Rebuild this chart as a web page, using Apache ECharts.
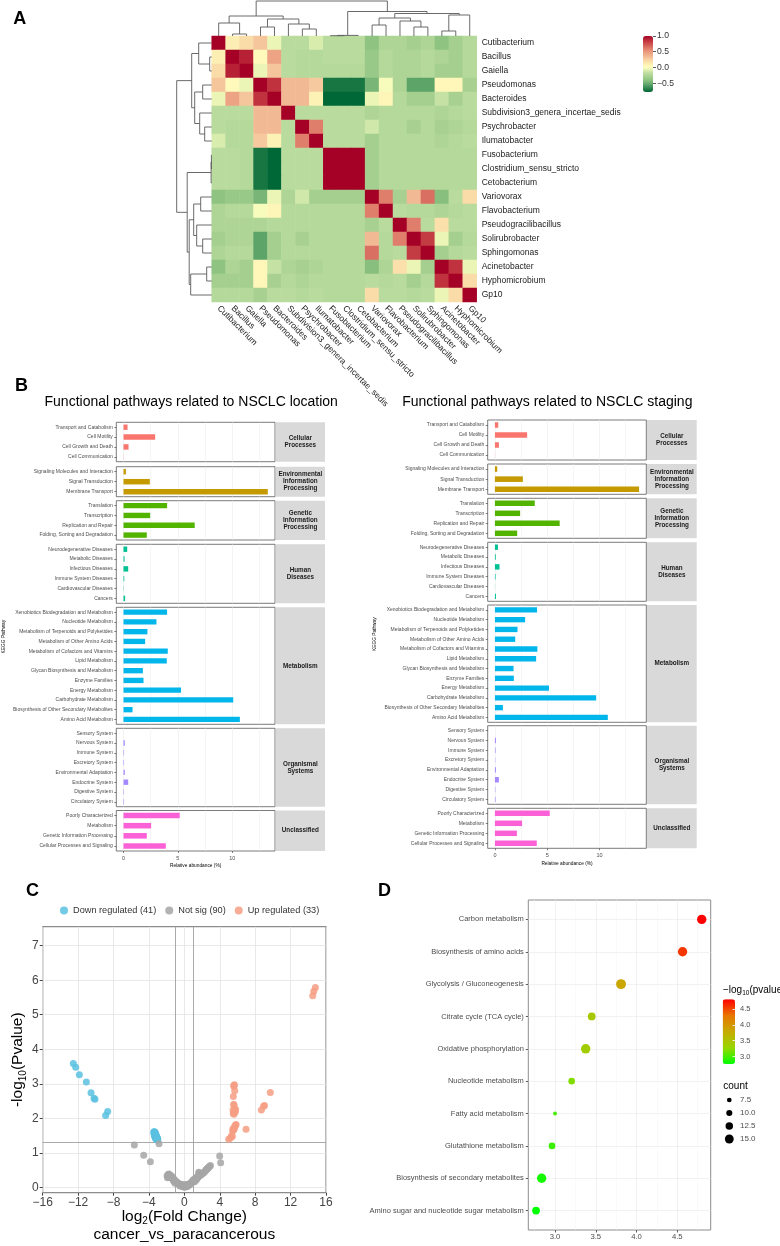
<!DOCTYPE html>
<html>
<head>
<meta charset="utf-8">
<title>Figure</title>
<script src="https://cdn.jsdelivr.net/npm/echarts@6.0.0/dist/echarts.min.js"></script>
<style>
  html, body { margin: 0; padding: 0; background: #fff; }
  #fig { width: 780px; height: 1246px; }
</style>
</head>
<body>
<div id="fig"></div>
<script>
const FONT = '"Liberation Sans", Arial, Helvetica, sans-serif';

// ---------- A: genus correlation heatmap ----------
const genera = ['Cutibacterium', 'Bacillus', 'Gaiella', 'Pseudomonas', 'Bacteroides',
  'Subdivision3_genera_incertae_sedis', 'Psychrobacter', 'Ilumatobacter', 'Fusobacterium',
  'Clostridium_sensu_stricto', 'Cetobacterium', 'Variovorax', 'Flavobacterium',
  'Pseudogracilibacillus', 'Solirubrobacter', 'Sphingomonas', 'Acinetobacter',
  'Hyphomicrobium', 'Gp10'];
// upper triangle, row i holds the columns i+1 .. 18
const corrUpper = [
  [0.1, 0.2, 0.3, -0.05, -0.2, -0.2, -0.1, -0.2, -0.2, -0.2, -0.4, -0.25, -0.25, -0.3, -0.25, -0.4, -0.3, -0.22],
  [0.9, 0.03, 0.45, -0.2, -0.22, -0.22, -0.2, -0.2, -0.2, -0.35, -0.22, -0.25, -0.25, -0.22, -0.25, -0.3, -0.22],
  [-0.05, 0.3, -0.2, -0.22, -0.22, -0.22, -0.22, -0.22, -0.35, -0.22, -0.25, -0.25, -0.22, -0.3, -0.3, -0.22],
  [0.85, 0.35, 0.35, 0.28, -0.72, -0.72, -0.72, -0.47, -0.02, -0.25, -0.55, -0.55, 0.05, 0.05, -0.28],
  [0.35, 0.35, 0.08, -0.78, -0.78, -0.78, -0.05, 0.06, -0.22, -0.3, -0.3, -0.15, -0.28, -0.2],
  [-0.2, -0.2, -0.2, -0.2, -0.2, -0.25, -0.22, -0.22, -0.22, -0.22, -0.25, -0.22, -0.2],
  [0.6, -0.2, -0.2, -0.2, -0.12, -0.22, -0.22, -0.28, -0.22, -0.28, -0.25, -0.22],
  [-0.2, -0.2, -0.2, -0.3, -0.22, -0.22, -0.22, -0.22, -0.25, -0.22, -0.2],
  [1, 1, -0.3, -0.22, -0.22, -0.22, -0.22, -0.22, -0.22, -0.22],
  [1, -0.3, -0.22, -0.22, -0.22, -0.22, -0.22, -0.22, -0.22],
  [-0.3, -0.22, -0.22, -0.22, -0.22, -0.22, -0.22, -0.22],
  [0.6, -0.28, 0.35, 0.65, -0.42, -0.2, 0.2],
  [-0.2, -0.22, -0.22, -0.25, -0.22, -0.2],
  [0.6, -0.2, 0.18, -0.2, -0.2],
  [0.82, -0.05, -0.3, -0.22],
  [-0.3, -0.22, -0.2],
  [0.85, -0.05],
  [0.2]
];
// clustering (same tree for rows and columns), merge k creates node 19 + k: [child, child, height]
const clusterMerges = [
  [1, 2, 2], [0, 19, 13], [3, 4, 9], [6, 7, 7], [5, 22, 12], [21, 23, 17], [20, 24, 20],
  [8, 9, 0.3], [26, 10, 0.6], [11, 12, 11], [14, 15, 9], [13, 29, 15], [28, 30, 18],
  [16, 17, 5], [32, 18, 21], [31, 33, 22.5], [27, 34, 24.5], [25, 35, 35]
];
const corrTicks = [-0.5, 0, 0.5, 1];

// ---------- B: KEGG pathway abundance ----------
const pathwayGroups = ['Cellular\nProcesses', 'Environmental\nInformation\nProcessing',
  'Genetic\nInformation\nProcessing', 'Human\nDiseases', 'Metabolism', 'Organismal\nSystems', 'Unclassified'];
const pathwayNames = [
  ['Transport and Catabolism', 'Cell Motility', 'Cell Growth and Death', 'Cell Communication'],
  ['Signaling Molecules and Interaction', 'Signal Transduction', 'Membrane Transport'],
  ['Translation', 'Transcription', 'Replication and Repair', 'Folding, Sorting and Degradation'],
  ['Neurodegenerative Diseases', 'Metabolic Diseases', 'Infectious Diseases', 'Immune System Diseases',
    'Cardiovascular Diseases', 'Cancers'],
  ['Xenobiotics Biodegradation and Metabolism', 'Nucleotide Metabolism', 'Metabolism of Terpenoids and Polyketides',
    'Metabolism of Other Amino Acids', 'Metabolism of Cofactors and Vitamins', 'Lipid Metabolism',
    'Glycan Biosynthesis and Metabolism', 'Enzyme Families', 'Energy Metabolism', 'Carbohydrate Metabolism',
    'Biosynthesis of Other Secondary Metabolites', 'Amino Acid Metabolism'],
  ['Sensory System', 'Nervous System', 'Immune System', 'Excretory System', 'Environmental Adaptation',
    'Endocrine System', 'Digestive System', 'Circulatory System'],
  ['Poorly Characterized', 'Metabolism', 'Genetic Information Processing', 'Cellular Processes and Signaling']
];
const abundLocation = [
  [0.37, 2.91, 0.46, 0.01],
  [0.22, 2.42, 13.27],
  [4.01, 2.45, 6.55, 2.14],
  [0.34, 0.10, 0.43, 0.07, 0.02, 0.15],
  [4.01, 3.03, 2.20, 1.99, 4.07, 3.98, 1.78, 1.84, 5.29, 10.09, 0.83, 10.70],
  [0.0, 0.12, 0.05, 0.05, 0.12, 0.43, 0.04, 0.05],
  [5.17, 2.54, 2.14, 3.89]
];
const abundStaging = [
  [0.32, 3.08, 0.38, 0.01],
  [0.22, 2.67, 13.78],
  [3.81, 2.41, 6.19, 2.13],
  [0.29, 0.08, 0.44, 0.06, 0.01, 0.10],
  [4.03, 2.89, 2.16, 1.94, 4.06, 3.94, 1.78, 1.81, 5.17, 9.68, 0.76, 10.79],
  [0.0, 0.10, 0.06, 0.03, 0.10, 0.38, 0.04, 0.06],
  [5.24, 2.60, 2.10, 4.00]
];
const abundTicks = [0, 5, 10];
const abundMinorGrid = [2.5, 7.5, 12.5];

// ---------- C: volcano plot [log2FC, -log10 p] ----------
const volcanoDown = [
  [-12.54, 3.59], [-12.27, 3.48], [-11.86, 3.26], [-11.07, 3.05], [-10.54, 2.74], [-10.2, 2.58],
  [-10.1, 2.55], [-8.66, 2.2], [-8.89, 2.08],
  [-3.45, 1.60], [-3.40, 1.61], [-3.35, 1.60], [-3.30, 1.59], [-3.42, 1.57], [-3.37, 1.56], [-3.32, 1.55],
  [-3.27, 1.56], [-3.40, 1.53], [-3.35, 1.52], [-3.28, 1.52], [-3.22, 1.53], [-3.38, 1.50], [-3.31, 1.49],
  [-3.24, 1.49], [-3.18, 1.50], [-3.33, 1.47], [-3.26, 1.46], [-3.20, 1.46], [-3.14, 1.47], [-3.28, 1.44],
  [-3.21, 1.43], [-3.15, 1.43], [-3.09, 1.44], [-3.22, 1.41], [-3.16, 1.40], [-3.10, 1.40], [-3.05, 1.41],
  [-3.12, 1.38], [-3.06, 1.37], [-3.00, 1.38], [-3.02, 1.42]
];
const volcanoNotSig = [
  [-5.65, 1.23], [-4.59, 0.93], [-3.84, 0.74], [-2.86, 1.26],
  [-1.95, 0.33], [-1.85, 0.37], [-1.75, 0.39], [-1.70, 0.34], [-1.62, 0.36], [-1.55, 0.31], [-1.50, 0.28],
  [-1.45, 0.33], [-1.38, 0.27], [-1.30, 0.24], [-1.80, 0.30], [-1.25, 0.20], [-1.13, 0.16], [-1.05, 0.12],
  [-0.55, 0.08], [-0.45, 0.06], [-0.35, 0.05], [-0.25, 0.03], [-0.15, 0.02], [-0.05, 0.01], [0.05, 0.01],
  [0.12, 0.02], [-0.40, 0.09], [-0.20, 0.07], [0.00, 0.05], [0.20, 0.04], [0.30, 0.06], [0.15, 0.08],
  [0.45, 0.08], [0.55, 0.10], [0.65, 0.11], [0.75, 0.13], [0.85, 0.14], [0.95, 0.16], [1.05, 0.18],
  [1.10, 0.20], [1.20, 0.22], [1.30, 0.24], [1.40, 0.26], [1.50, 0.28], [1.55, 0.30], [1.60, 0.32],
  [1.65, 0.38], [1.70, 0.42], [1.62, 0.44], [1.75, 0.34], [1.85, 0.36], [1.95, 0.38], [2.05, 0.40],
  [2.15, 0.42], [2.25, 0.44], [2.35, 0.47], [2.45, 0.50], [2.55, 0.53], [2.65, 0.55], [2.75, 0.58],
  [2.85, 0.61], [2.95, 0.63], [1.00, 0.22], [1.25, 0.27], [0.90, 0.18], [1.45, 0.31], [2.50, 0.52],
  [2.70, 0.57], [3.99, 0.91], [4.10, 0.71],
  [-0.60, 0.10], [-0.50, 0.04], [-0.30, 0.08], [-0.10, 0.04], [0.10, 0.05], [0.25, 0.02], [0.35, 0.03],
  [0.40, 0.05], [-0.70, 0.12], [-0.80, 0.14], [-0.90, 0.16], [-1.00, 0.19], [-1.20, 0.25], [-1.40, 0.30],
  [-1.60, 0.29], [-1.90, 0.28], [-1.70, 0.31], [1.15, 0.16], [1.35, 0.21], [0.60, 0.07]
];
const volcanoUp = [
  [5.61, 2.95], [5.65, 2.97], [5.58, 2.93], [5.69, 2.80], [5.53, 2.63], [5.57, 2.41], [5.62, 2.38],
  [5.50, 2.24], [5.80, 2.25], [5.70, 2.28], [5.53, 2.14], [5.60, 2.12], [5.75, 2.18], [5.84, 1.82],
  [5.78, 1.80], [5.70, 1.78], [5.65, 1.71], [5.60, 1.68], [5.46, 1.64], [5.50, 1.70], [5.42, 1.47],
  [5.35, 1.50], [5.01, 1.39], [5.20, 1.43], [6.97, 1.68], [8.70, 2.24], [8.95, 2.35], [9.05, 2.37],
  [9.71, 2.75], [14.50, 5.55], [14.62, 5.68], [14.80, 5.79], [5.55, 1.66]
];
const volcanoYTicks = [0, 1, 2, 3, 4, 5, 6, 7];

// ---------- D: KEGG enrichment ----------
const keggTerms = ['Carbon metabolism', 'Biosynthesis of amino acids', 'Glycolysis / Gluconeogenesis',
  'Citrate cycle (TCA cycle)', 'Oxidative phosphorylation', 'Nucleotide metabolism', 'Fatty acid metabolism',
  'Glutathione metabolism', 'Biosynthesis of secondary metabolites', 'Amino sugar and nucleotide sugar metabolism'];
const keggLogP = [4.80, 4.565, 3.81, 3.45, 3.376, 3.204, 3.0, 2.963, 2.836, 2.767];
const keggCount = [16, 16, 17, 13, 16, 11, 6, 11, 16, 13];
const keggXTicks = [3, 3.5, 4, 4.5];
const keggXMinor = [2.75, 3.25, 3.75, 4.25, 4.75];
const countBreaks = [7.5, 10, 12.5, 15];

// ---------- helpers ----------
function hexRgb(h) { return [1, 3, 5].map(i => parseInt(h.slice(i, i + 2), 16)); }
function rampColor(stops, v) {
  if (v <= stops[0][0]) return stops[0][1];
  for (let k = 1; k < stops.length; k++) {
    if (v <= stops[k][0]) {
      const t = (v - stops[k - 1][0]) / (stops[k][0] - stops[k - 1][0]);
      const a = hexRgb(stops[k - 1][1]), b = hexRgb(stops[k][1]);
      return 'rgb(' + a.map((c, i) => Math.round(c + (b[i] - c) * t)).join(',') + ')';
    }
  }
  return stops[stops.length - 1][1];
}
const minus = v => (v < 0 ? '\u2212' : '') + Math.abs(v);
const sizeOf = c => 0.55 * c + 0.6;

const grid = [], xAxis = [], yAxis = [], series = [], graphic = [];
function addGrid(g) {
  grid.push(Object.assign({ outerBoundsMode: 'none', containLabel: false }, g));
  return grid.length - 1;
}
const hidden = { show: false };
const noLine = { show: false, onZero: false };
function label(text, x, y, o) {
  graphic.push({ type: 'text', x: x, y: y, silent: true, rotation: (o && o.rotation) || 0,
    style: Object.assign({ text: text, fontFamily: FONT, fill: '#000', fontSize: 10 }, o && o.style) });
}

// ---------- A ----------
const nG = genera.length;
const corr = genera.map(() => new Array(nG).fill(1));
corrUpper.forEach((row, i) => row.forEach((v, k) => { corr[i][i + 1 + k] = v; corr[i + 1 + k][i] = v; }));
const heatData = [];
corr.forEach((row, i) => row.forEach((v, j) => heatData.push([j, i, v])));
const corrMin = Math.min(...corrUpper.flat()), corrMax = 1;

const nodePos = genera.map((_, i) => i), nodeH = genera.map(() => 0);
const dendroSegs = clusterMerges.map(([a, b, h]) => {
  const seg = [nodePos[a], nodeH[a], nodePos[b], nodeH[b], h];
  nodePos.push((nodePos[a] + nodePos[b]) / 2);
  nodeH.push(h);
  return seg;
});

const heatStops = [[-0.78, '#006837'], [-0.70, '#1e7b44'], [-0.55, '#5da46a'], [-0.40, '#8fc381'],
  [-0.25, '#aed596'], [-0.15, '#c4e2a4'], [0, '#ffffbf'], [0.15, '#fce7ae'], [0.30, '#f5c59b'],
  [0.45, '#eda484'], [0.60, '#e07e6c'], [0.85, '#c0323e'], [1, '#a50026']];
const heatColors = [];
for (let k = 0; k <= 80; k++) heatColors.push(rampColor(heatStops, corrMin + (corrMax - corrMin) * k / 80));

const gHeat = addGrid({ left: 211.7, top: 36, width: 265, height: 266 });
xAxis.push({ gridIndex: gHeat, type: 'category', data: genera, axisLine: noLine, axisTick: hidden,
  splitLine: hidden, axisLabel: { interval: 0, rotate: -45, fontSize: 8.5, color: '#1a1a1a', margin: 5 } });
yAxis.push({ gridIndex: gHeat, type: 'category', data: genera, inverse: true, position: 'right',
  axisLine: noLine, axisTick: hidden, splitLine: hidden,
  axisLabel: { interval: 0, fontSize: 8.5, color: '#1a1a1a', margin: 5 } });
const heatSeries = series.length;
series.push({ type: 'heatmap', xAxisIndex: gHeat, yAxisIndex: gHeat, data: heatData,
  emphasis: { disabled: true }, silent: true });

function dendroSeries(gi, rows) {
  series.push({
    type: 'custom', xAxisIndex: gi, yAxisIndex: gi, data: dendroSegs, silent: true,
    encode: rows ? { x: [1, 3, 4], y: [0, 2] } : { x: [0, 2], y: [1, 3, 4] },
    renderItem: function (params, api) {
      const pa = api.value(0), ha = api.value(1), pb = api.value(2), hb = api.value(3), h = api.value(4);
      let pts = [[pa, ha], [pa, h], [pb, h], [pb, hb]];
      if (rows) pts = pts.map(p => [p[1], p[0]]);
      return { type: 'polyline', shape: { points: pts.map(p => api.coord(p)) },
        style: { stroke: '#5a5a5a', lineWidth: 0.9, fill: 'none' } };
    }
  });
}
const gColD = addGrid({ left: 211.7, top: 0, width: 265, height: 36 });
xAxis.push({ gridIndex: gColD, type: 'value', min: -0.5, max: nG - 0.5, show: false });
yAxis.push({ gridIndex: gColD, type: 'value', min: 0, max: 36, show: false });
dendroSeries(gColD, false);
const gRowD = addGrid({ left: 175.7, top: 36, width: 36, height: 266 });
xAxis.push({ gridIndex: gRowD, type: 'value', min: 0, max: 36, inverse: true, show: false });
yAxis.push({ gridIndex: gRowD, type: 'value', min: -0.5, max: nG - 0.5, inverse: true, show: false });
dendroSeries(gRowD, true);

const gCbar = addGrid({ left: 643, top: 36, width: 10, height: 56 });
xAxis.push({ gridIndex: gCbar, type: 'value', show: false, min: 0, max: 1 });
yAxis.push({ gridIndex: gCbar, type: 'value', min: corrMin, max: corrMax, position: 'right',
  axisLine: noLine, splitLine: hidden,
  axisTick: { show: true, length: 3, customValues: corrTicks, lineStyle: { color: '#333', width: 0.8 } },
  axisLabel: { customValues: corrTicks, fontSize: 8.6, color: '#333', margin: 4,
    formatter: v => (v < 0 ? '\u2212' : '') + Math.abs(v).toFixed(1) } });

// ---------- B ----------
const facetColors = ['#F8766D', '#C49A00', '#53B400', '#00C094', '#00B6EB', '#A58AFF', '#FB61D7'];
const bPanels = [
  { title: 'Functional pathways related to NSCLC location', cx: 191.2, values: abundLocation,
    left: 116.3, right: 275, stripL: 275.7, stripR: 325, yTitleX: 3.5,
    tops: [422.3, 466.7, 500.7, 544.3, 607.3, 728.3, 810.5], bottoms: [461.7, 496.7, 540, 603.3, 724.3, 806.7, 851] },
  { title: 'Functional pathways related to NSCLC staging', cx: 547.3, values: abundStaging,
    left: 487.7, right: 646.3, stripL: 647, stripR: 696.7, yTitleX: 375,
    tops: [420, 464, 498.3, 542.3, 605, 725.7, 808.3], bottoms: [460, 494.3, 538.3, 601.3, 722.3, 804.3, 848.3] }
];
bPanels.forEach(p => {
  const vmax = Math.max(...p.values.flat());
  const xMin = -0.05 * vmax, xMax = 1.05 * vmax;
  label(p.title, p.cx, 395, { style: { fontSize: 14, align: 'center', verticalAlign: 'top' } });
  label('KEGG Pathway', p.yTitleX, (p.tops[0] + p.bottoms[6]) / 2,
    { rotation: Math.PI / 2, style: { fontSize: 4.8, align: 'center', verticalAlign: 'middle' } });
  pathwayNames.forEach((names, f) => {
    const last = f === pathwayNames.length - 1;
    const gi = addGrid({ left: p.left, top: p.tops[f], width: p.right - p.left, height: p.bottoms[f] - p.tops[f],
      show: true, borderColor: '#595959', borderWidth: 0.8, backgroundColor: '#fff' });
    xAxis.push({ gridIndex: gi, type: 'value', min: xMin, max: xMax, splitNumber: 3,
      axisLine: noLine,
      axisTick: { show: last, length: 2, customValues: abundTicks, lineStyle: { color: '#333', width: 0.6 } },
      axisLabel: { show: last, customValues: abundTicks, fontSize: 5.5, color: '#4d4d4d', margin: 4 },
      splitLine: { show: true, lineStyle: { color: '#ebebeb', width: 0.6 } },
      name: last ? 'Relative abundance (%)' : '', nameLocation: 'middle', nameGap: 12.5,
      nameTextStyle: { fontSize: 4.8, color: '#000', fontFamily: FONT } });
    yAxis.push({ gridIndex: gi, type: 'category', data: names, inverse: true, axisLine: noLine,
      axisTick: { show: true, alignWithLabel: true, length: 2, lineStyle: { color: '#333', width: 0.6 } },
      axisLabel: { interval: 0, fontSize: 5, color: '#4d4d4d', margin: 3.5 }, splitLine: hidden });
    series.push({ type: 'bar', xAxisIndex: gi, yAxisIndex: gi, data: p.values[f], barWidth: '55%', silent: true,
      itemStyle: { color: facetColors[f] }, z: 3,
      markLine: { silent: true, symbol: 'none', z: 1, animation: false, label: hidden,
        lineStyle: { color: '#ededed', type: 'solid', width: 0.5 },
        data: abundMinorGrid.filter(v => v < xMax).map(v => ({ xAxis: v })) } });
    graphic.push({ type: 'rect', silent: true,
      shape: { x: p.stripL, y: p.tops[f], width: p.stripR - p.stripL, height: p.bottoms[f] - p.tops[f] },
      style: { fill: '#d9d9d9' } });
    label(pathwayGroups[f], (p.stripL + p.stripR) / 2, (p.tops[f] + p.bottoms[f]) / 2,
      { style: { fontSize: 6.3, fontWeight: 'bold', fill: '#1a1a1a', align: 'center', verticalAlign: 'middle', lineHeight: 7 } });
  });
});

// ---------- C ----------
const gVol = addGrid({ left: 42.7, top: 926.7, width: 283.3, height: 266, show: true,
  borderColor: '#8c8c8c', borderWidth: 1.2 });
xAxis.push({ gridIndex: gVol, type: 'value', min: -16, max: 16, interval: 4, axisLine: noLine,
  axisTick: { length: 3, lineStyle: { color: '#444' } },
  axisLabel: { fontSize: 12, color: '#444', margin: 4, formatter: minus },
  splitLine: { lineStyle: { color: '#e3e3e3', width: 0.8 } } });
yAxis.push({ gridIndex: gVol, type: 'value', min: -0.155, max: 7.55, splitNumber: 8, axisLine: noLine,
  axisTick: { length: 3, customValues: volcanoYTicks, lineStyle: { color: '#444' } },
  axisLabel: { fontSize: 12, color: '#444', margin: 4, customValues: volcanoYTicks },
  splitLine: { lineStyle: { color: '#e3e3e3', width: 0.8 } } });
const volDefs = [
  ['Down regulated', volcanoDown, '#5bc1e0'],
  ['Not sig', volcanoNotSig, '#a6a6a6'],
  ['Up regulated', volcanoUp, '#f69d84']
];
const volNames = volDefs.map(d => d[0] + ' (' + d[1].length + ')');
volDefs.forEach((d, k) => {
  series.push({ type: 'scatter', name: volNames[k], xAxisIndex: gVol, yAxisIndex: gVol, data: d[1],
    symbolSize: 7, itemStyle: { color: d[2], opacity: 0.85 }, silent: true, z: 3,
    markLine: k === 0 ? { silent: true, symbol: 'none', z: 2, animation: false, label: hidden,
      lineStyle: { color: '#a0a0a0', type: 'solid', width: 0.9 },
      data: [{ xAxis: -1 }, { xAxis: 1 }, { yAxis: -Math.log10(0.05) }] } : undefined });
});
label('{a|-log}{s|10}{a|(Pvalue)}', 18, 1059.7, { rotation: Math.PI / 2, style: { align: 'center', verticalAlign: 'middle',
  rich: { a: { fontSize: 15.5, lineHeight: 20, fontFamily: FONT, fill: '#000' },
    s: { fontSize: 10, lineHeight: 10, verticalAlign: 'bottom', fontFamily: FONT, fill: '#000' } } } });
label('{a|log}{s|2}{a|(Fold Change)}', 184.3, 1216.7, { style: { align: 'center', verticalAlign: 'middle',
  rich: { a: { fontSize: 15.5, lineHeight: 20, fontFamily: FONT, fill: '#000' },
    s: { fontSize: 10, lineHeight: 10, verticalAlign: 'bottom', fontFamily: FONT, fill: '#000' } } } });
label('cancer_vs_paracancerous', 184.3, 1235, { style: { fontSize: 15.5, align: 'center', verticalAlign: 'middle' } });

// ---------- D ----------
const keggMin = Math.min(...keggLogP), keggMax = Math.max(...keggLogP);
const gKegg = addGrid({ left: 528.3, top: 900, width: 182.4, height: 330, show: true,
  borderColor: '#8c8c8c', borderWidth: 1 });
xAxis.push({ gridIndex: gKegg, type: 'value', min: 2.672, max: 4.91, splitNumber: 4, axisLine: noLine,
  axisTick: { length: 2.5, customValues: keggXTicks, lineStyle: { color: '#333', width: 0.8 } },
  axisLabel: { customValues: keggXTicks, fontSize: 7.7, color: '#4d4d4d', margin: 3, formatter: v => v.toFixed(1) },
  splitLine: { lineStyle: { color: '#ebebeb', width: 0.7 } } });
yAxis.push({ gridIndex: gKegg, type: 'value', min: -0.6, max: keggTerms.length - 0.4, inverse: true, axisLine: noLine,
  axisTick: { length: 2.5, customValues: keggTerms.map((_, i) => i), lineStyle: { color: '#333', width: 0.8 } },
  axisLabel: { customValues: keggTerms.map((_, i) => i), fontSize: 7.5, color: '#4d4d4d', margin: 4.5,
    formatter: v => keggTerms[Math.round(v)] },
  splitLine: hidden });
const keggSeries = series.length;
series.push({ type: 'scatter', xAxisIndex: gKegg, yAxisIndex: gKegg, silent: true, z: 3,
  data: keggLogP.map((v, i) => [v, i, keggCount[i]]),
  symbolSize: d => sizeOf(d[2]), itemStyle: { opacity: 1 },
  markLine: { silent: true, symbol: 'none', z: 1, animation: false, label: hidden,
    lineStyle: { color: '#ebebeb', type: 'solid', width: 0.7 },
    data: keggTerms.map((_, i) => ({ yAxis: i })).concat(keggXMinor.map(v => ({ xAxis: v, lineStyle: { color: '#f4f4f4', width: 0.5 } }))) } });
const keggColors = ['#00ff00', '#98d600', '#c7aa00', '#e87600', '#ff0000'];

const gKbar = addGrid({ left: 722.7, top: 999.3, width: 12.3, height: 64.7 });
xAxis.push({ gridIndex: gKbar, type: 'value', show: false, min: 0, max: 1 });
yAxis.push({ gridIndex: gKbar, type: 'value', min: keggMin, max: keggMax, position: 'right',
  axisLine: noLine, splitLine: hidden,
  axisTick: { show: true, inside: true, length: 2.5, customValues: keggXTicks, lineStyle: { color: '#fff', width: 0.8 } },
  axisLabel: { customValues: keggXTicks, fontSize: 7.5, color: '#4d4d4d', margin: 5, formatter: v => v.toFixed(1) }, z: 5 });
label('{a|\u2212log}{s|10}{a|(pvalue)}', 723, 990, { style: { align: 'left', verticalAlign: 'middle',
  rich: { a: { fontSize: 10, lineHeight: 13, fontFamily: FONT, fill: '#000' },
    s: { fontSize: 6.5, lineHeight: 7, verticalAlign: 'bottom', fontFamily: FONT, fill: '#000' } } } });
label('count', 723.3, 1086, { style: { fontSize: 10, verticalAlign: 'middle' } });
countBreaks.forEach((c, k) => {
  const y = 1100 + k * 13;
  graphic.push({ type: 'circle', silent: true, shape: { cx: 729.3, cy: y, r: sizeOf(c) / 2 }, style: { fill: '#000' } });
  label(c.toFixed(1), 740, y, { style: { fontSize: 8, fill: '#4d4d4d', verticalAlign: 'middle' } });
});

// panel letters
[['A', 13.3, 10], ['B', 15, 377.3], ['C', 26, 881.6], ['D', 378, 881.6]].forEach(l =>
  label(l[0], l[1], l[2], { style: { fontSize: 18, fontWeight: 'bold', verticalAlign: 'top' } }));

const chart = echarts.init(document.getElementById('fig'), null, { renderer: 'canvas' });
chart.setOption({
  animation: false,
  backgroundColor: '#fff',
  textStyle: { fontFamily: FONT },
  legend: { data: volNames, left: 55, top: 901, icon: 'circle', itemWidth: 8, itemHeight: 8, itemGap: 9,
    selectedMode: false, textStyle: { fontSize: 9.2, color: '#333', fontFamily: FONT } },
  visualMap: [
    { type: 'continuous', seriesIndex: heatSeries, min: corrMin, max: corrMax, left: 643, top: 36,
      itemWidth: 10, itemHeight: 56, padding: 0, calculable: false, hoverLink: false, text: null,
      inRange: { color: heatColors } },
    { type: 'continuous', seriesIndex: keggSeries, dimension: 0, min: keggMin, max: keggMax, left: 722.7, top: 999.3,
      itemWidth: 12.3, itemHeight: 64.7, padding: 0, calculable: false, hoverLink: false, text: null,
      inRange: { color: keggColors } }
  ],
  grid: grid, xAxis: xAxis, yAxis: yAxis, series: series,
  graphic: { elements: graphic }
});
</script>
</body>
</html>
